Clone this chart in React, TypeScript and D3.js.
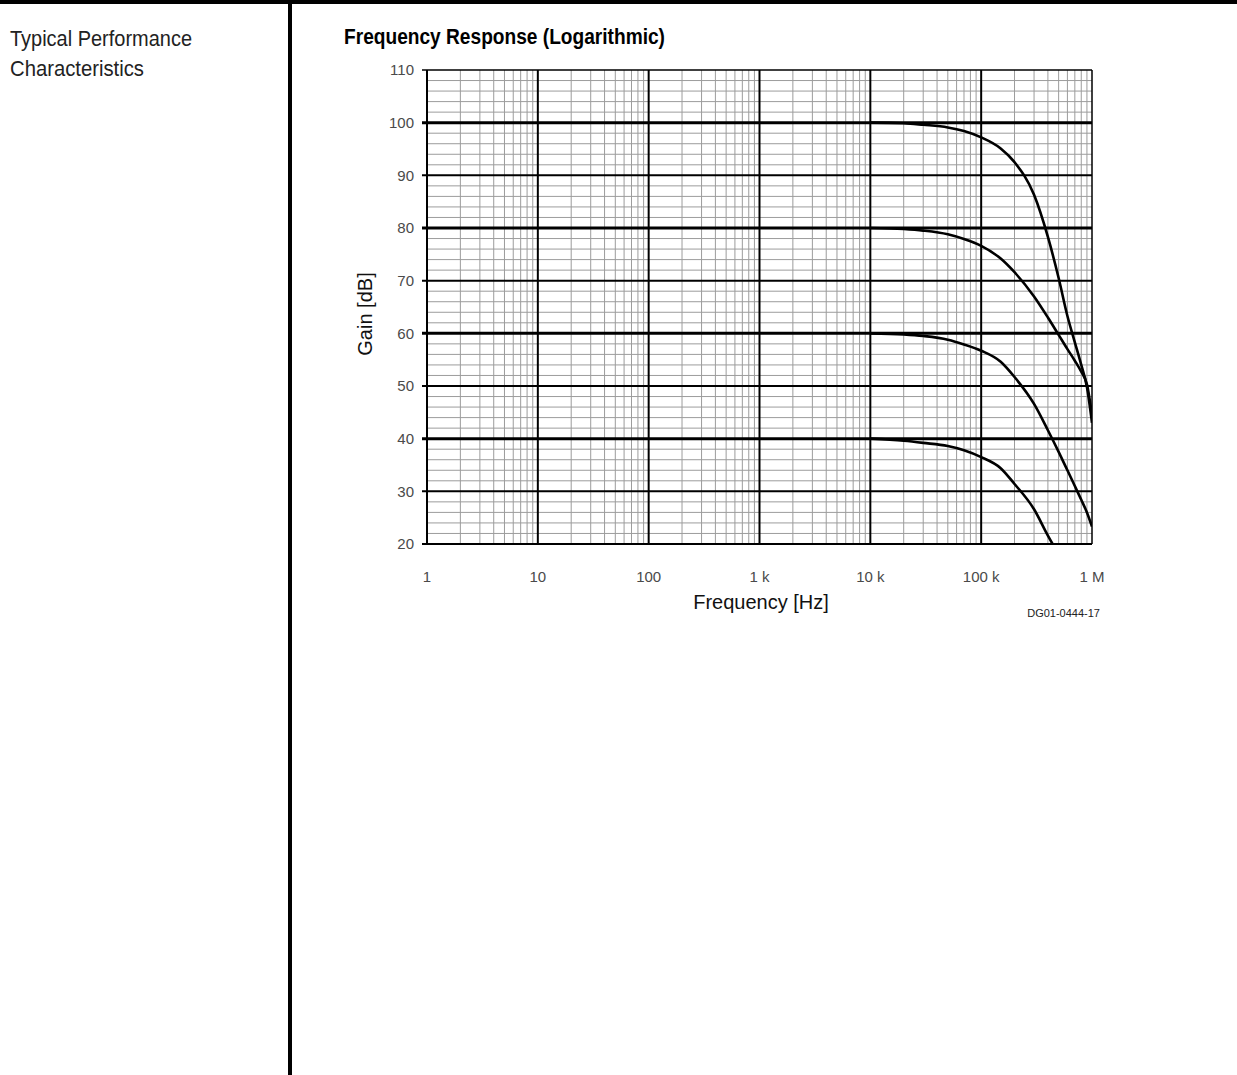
import React from "react";
import * as d3 from "d3";

const freqs = [10000, 20000, 30000, 50000, 70000, 100000, 150000, 200000, 300000, 400000, 500000, 600000, 700000, 800000, 900000, 1000000];
// gain curves for the four closed-loop settings (dB)
const gain100 = [100, 99.9, 99.6, 99.1, 98.4, 97.2, 95.1, 92.5, 86.3, 78.3, 70.5, 63.3, 58.3, 54.0, 49.8, 43.0];
const gain80 = [80, 79.8, 79.5, 78.8, 77.9, 76.6, 74.2, 71.6, 67.0, 63.0, 59.7, 57.0, 54.8, 52.7, 50.3, 44.5];
const gain60 = [60, 59.8, 59.5, 58.8, 57.9, 56.7, 54.6, 51.7, 46.6, 41.6, 37.5, 34.0, 31.0, 28.4, 26.0, 23.3];
const gain40 = [40, 39.6, 39.2, 38.6, 37.8, 36.5, 34.4, 31.4, 26.6, 21.6, 18.0, 15.0, 12.5, 10.5, 8.5, 7.0];
const curves = [gain100, gain80, gain60, gain40];

const xTicks = [1, 10, 100, 1000, 10000, 100000, 1000000];
const xTickLabels = ["1", "10", "100", "1 k", "10 k", "100 k", "1 M"];
const yTicks = [20, 30, 40, 50, 60, 70, 80, 90, 100, 110];
const boldGain = [40, 60, 80, 100];

const W = 1237, H = 1075;
const plot = { left: 427, right: 1092, top: 70, bottom: 544 };
const sans = "'Liberation Sans', Arial, Helvetica, sans-serif";

export default function App() {
  const x = d3.scaleLog().domain([1, 1e6]).range([plot.left, plot.right]);
  const y = d3.scaleLinear().domain([20, 110]).range([plot.bottom, plot.top]);

  const minorX: number[] = [];
  for (let d = 1; d < 1e6; d *= 10) for (let m = 2; m <= 9; m++) minorX.push(d * m);
  const minorY = d3.range(20, 111, 2).filter((v) => v % 10 !== 0);

  const line = d3
    .line<number>()
    .x((_, i) => x(freqs[i]))
    .y((d) => y(d))
    .curve(d3.curveMonotoneX);

  return (
    <svg width={W} height={H} style={{ position: "absolute", left: 0, top: 0 }}>
      <defs>
        <clipPath id="plotclip">
          <rect x={plot.left} y={plot.top} width={plot.right - plot.left} height={plot.bottom - plot.top} />
        </clipPath>
      </defs>
      <rect width={W} height={H} fill="#fff" />
      {/* page frame */}
      <rect x={0} y={0} width={W} height={4} fill="#000" />
      <rect x={288} y={0} width={4} height={H} fill="#000" />

      <text x={10} y={46} fontFamily={sans} fontSize={22} fill="#222" textLength={182} lengthAdjust="spacingAndGlyphs">
        Typical Performance
      </text>
      <text x={10} y={76} fontFamily={sans} fontSize={22} fill="#222" textLength={134} lengthAdjust="spacingAndGlyphs">
        Characteristics
      </text>
      <text x={344} y={44} fontFamily={sans} fontWeight="bold" fontSize={22} fill="#000" textLength={321} lengthAdjust="spacingAndGlyphs">
        Frequency Response (Logarithmic)
      </text>

      {/* grid */}
      <g stroke="#9c9c9c" strokeWidth={1}>
        {minorX.map((f) => (
          <line key={"mx" + f} x1={x(f)} x2={x(f)} y1={plot.top} y2={plot.bottom} />
        ))}
        {minorY.map((v) => (
          <line key={"my" + v} x1={plot.left} x2={plot.right} y1={y(v)} y2={y(v)} />
        ))}
      </g>
      <g stroke="#000">
        {yTicks.map((v) => (
          <line
            key={"gy" + v}
            x1={plot.left - 5}
            x2={plot.right}
            y1={y(v)}
            y2={y(v)}
            strokeWidth={boldGain.includes(v) ? 3 : v === 110 ? 1.5 : 2}
          />
        ))}
        {xTicks.map((f) => (
          <line key={"gx" + f} x1={x(f)} x2={x(f)} y1={plot.top} y2={plot.bottom} strokeWidth={f === 1e6 ? 1.5 : 2} />
        ))}
      </g>

      {/* curves */}
      <g clipPath="url(#plotclip)" fill="none" stroke="#000" strokeWidth={2.6} strokeLinejoin="round">
        {curves.map((c, i) => (
          <path key={i} d={line(c) || ""} />
        ))}
      </g>

      {/* tick labels */}
      <g fontFamily={sans} fontSize={15} fill="#4a4a4a">
        {yTicks.map((v) => (
          <text key={"ty" + v} x={plot.left - 13} y={y(v)} dy="0.35em" textAnchor="end">
            {v}
          </text>
        ))}
        {xTicks.map((f, i) => (
          <text key={"tx" + f} x={x(f)} y={582} textAnchor="middle">
            {xTickLabels[i]}
          </text>
        ))}
      </g>

      <text transform={`translate(372, 314) rotate(-90)`} textAnchor="middle" fontFamily={sans} fontSize={20} fill="#111">
        Gain [dB]
      </text>
      <text x={761} y={609} textAnchor="middle" fontFamily={sans} fontSize={20} fill="#111">
        Frequency [Hz]
      </text>
      <text x={1100} y={617} textAnchor="end" fontFamily={sans} fontSize={11} fill="#222">
        DG01-0444-17
      </text>
    </svg>
  );
}
